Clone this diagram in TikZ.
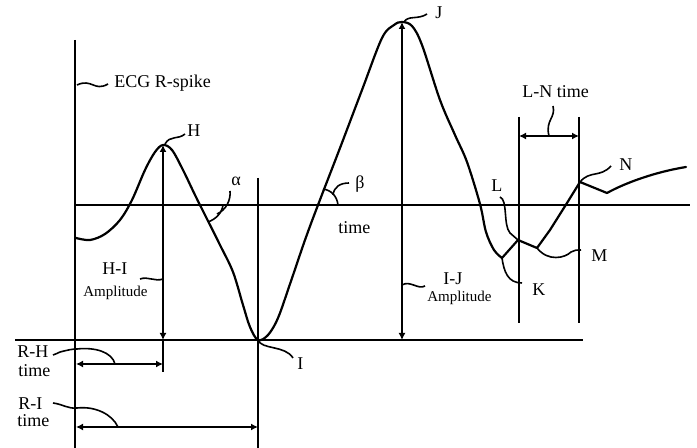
\documentclass[tikz,border=0pt]{standalone}
\usepackage{fontspec}
\setmainfont{Liberation Serif}
\usetikzlibrary{arrows.meta}
\begin{document}
\begin{tikzpicture}[x=0.5pt,y=-0.5pt,
  axisline/.style={line width=1.3pt},
  wave/.style={line width=1.1pt, line join=round, line cap=round},
  thinline/.style={line width=0.75pt},
  lead/.style={line width=0.8pt},
  lbl/.style={font=\fontsize{9}{10}\selectfont, inner sep=0pt, anchor=base west},
  smalllbl/.style={font=\fontsize{7.5}{8}\selectfont, inner sep=0pt, anchor=base west},
  tip/.style={Latex[length=3.5pt,width=3.5pt]},
  dimarrow/.style={thinline, {Latex[length=3.5pt,width=3.5pt]}-{Latex[length=3.5pt,width=3.5pt]}}]
\useasboundingbox (0,0) rectangle (697,448);

% axes and reference lines
\coordinate (ax0) at (75,40);   \coordinate (ax1) at (75,448);
\coordinate (b0) at (75,205);   \coordinate (b1) at (690,205);
\coordinate (l0) at (15,340);   \coordinate (l1) at (583,340);
\coordinate (iv0) at (258,178); \coordinate (iv1) at (258,448);
\draw[axisline] (ax0) -- (ax1);
\draw[thinline] (b0) -- (b1);
\draw[thinline] (l0) -- (l1);
\draw[thinline] (iv0) -- (iv1);

% key points
\coordinate (H) at (163,145);
\coordinate (I) at (258,340);
\coordinate (J) at (402,22);
\coordinate (K) at (502,258);
\coordinate (L) at (518,240);
\coordinate (M) at (537,248);
\coordinate (N) at (580,182);

% waveform
\draw[wave] plot[smooth, tension=0.55] coordinates {
  (76,238) (90,240) (105,234) (120,220) (132,200) (145,170) (155,152) (163,145)
  (172,150) (183,170) (195,195) (205,215) (220,245) (233,272) (243,305) (250,327) (258,340)
  (268,335) (278,318) (290,284) (305,240) (318,205) (340,148) (362,90) (382,38) (394,25) (402,22)
  (412,26) (422,45) (440,100) (455,135) (467,162) (480,204) (486,232) (494,250) (502,258)};
\draw[wave] (K) -- (L) -- (M) -- (550,230) -- (567,203) -- (N) -- (607,193)
  .. controls (625,183) and (655,172) .. (686,167);

% H-I amplitude
\draw[dimarrow] (H) -- (163,340);
\draw[axisline] (163,340) -- (163,372);
% I-J amplitude
\draw[dimarrow] (J) -- (402,340);
% R-H time, R-I time
\draw[dimarrow, line width=1.1pt] (76,364) -- (163,364);
\draw[dimarrow] (76,427) -- (258,427);
% L-N time
\coordinate (ln0) at (519,117); \coordinate (ln1) at (519,323);
\coordinate (ln2) at (579,117); \coordinate (ln3) at (579,323);
\draw[thinline] (ln0) -- (ln1);
\draw[thinline] (ln2) -- (ln3);
\draw[dimarrow] (519,136) -- (579,136);

% angle marks
\draw[lead] (223,205) .. controls (222,213) and (216,219) .. (208,222);
\draw[lead] (217,214) .. controls (226,210) and (231,200) .. (230,191);
\draw[lead] (338,205) .. controls (337,196) and (331,190) .. (323,189);
\draw[lead] (333,195) .. controls (334,187) and (340,183) .. (349,183);
\draw[lead] (60,352) .. controls (68,350) and (72,349) .. (77,349)
  .. controls (95,347) and (112,352) .. (115,364);
\draw[lead] (53,355) .. controls (56,355) and (58,352) .. (60,352);
\draw[lead] (53,403) .. controls (62,404) and (68,409) .. (77,408)
  .. controls (95,406) and (112,414) .. (118,427);

% label leads
\draw[lead] (77,85) .. controls (92,78) and (94,92) .. (108,84);
\draw[lead] (165,144) .. controls (170,135) and (178,140) .. (185,134);
\draw[lead] (404,22) .. controls (408,15) and (418,20) .. (427,14);
\draw[lead] (N) .. controls (590,170) and (600,178) .. (611,166);
\draw[lead] (500,197) .. controls (508,200) and (503,225) .. (510,233) -- (L);
\draw[lead] (K) .. controls (504,272) and (508,283) .. (522,283);
\draw[lead] (M) .. controls (548,262) and (565,258) .. (571,252)
  .. controls (574,250) and (577,250) .. (581,250);
\draw[lead] (402,285) .. controls (410,280) and (418,290) .. (425,286);
\draw[lead] (163,279) .. controls (155,282) and (148,276) .. (140,279);
\draw[lead] (I) .. controls (262,350) and (285,345) .. (293,358);
\draw[lead] (549,136) .. controls (545,120) and (556,118) .. (553,106);

% labels
\node[lbl] (tecg) at (114,88) {ECG R-spike};
\node[lbl] (tH) at (187,137) {H};
\node[lbl] (talpha) at (231,186) {α};
\node[lbl] (tbeta) at (355,189) {β};
\node[lbl] (ttime) at (338,234) {time};
\node[lbl] (tJ) at (435,19) {J};
\node[lbl] (tln) at (522,98) {L-N time};
\node[lbl] (tN) at (619,171) {N};
\node[lbl] (tL) at (491,192) {L};
\node[lbl] (tM) at (591,262) {M};
\node[lbl] (tK) at (532,296) {K};
\node[lbl] (tij) at (443,285) {I-J};
\node[smalllbl] (tija) at (427,302) {Amplitude};
\node[lbl] (thi) at (102,275) {H-I};
\node[smalllbl] (thia) at (83,297) {Amplitude};
\node[lbl] (tI) at (297,370) {I};
\node[lbl] (trh) at (17,358) {R-H};
\node[lbl] (trht) at (18,377) {time};
\node[lbl] (tri) at (18,410) {R-I};
\node[lbl] (trit) at (17,427) {time};
\end{tikzpicture}
\end{document}
